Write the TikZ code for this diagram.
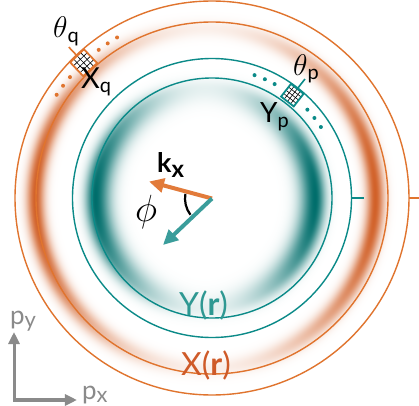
\documentclass[tikz,border=0pt]{standalone}
\usepackage{fix-cm}
\usepackage{fontspec}
\setsansfont{Lato}
\usetikzlibrary{arrows.meta, calc}

\definecolor{ringorange}{HTML}{E0742E}
\definecolor{ringteal}{HTML}{0B8A88}
\definecolor{arroworange}{HTML}{E27B3A}
\definecolor{arrowteal}{HTML}{3A9D9B}
\definecolor{textorange}{HTML}{CF5A28}
\definecolor{textteal}{HTML}{2E9892}
\definecolor{axisgray}{HTML}{8A8A8A}

% lowered subscript: drop, size, text
\newcommand{\lowsub}[3]{\raisebox{-#1}{\fontsize{#2}{#2}\selectfont #3}}

% X(r) band: gaussian in r, strongest along p_x
\pgfdeclarefunctionalshading{bandX}{\pgfpoint{-205bp}{-205bp}}{\pgfpoint{205bp}{205bp}}{}{
  exch dup mul exch dup mul 1 index add 0.01 add
  exch 1 index div 0.9 mul 0.1 add
  exch sqrt 170 sub 9 div dup mul neg 2.71828 exch exp mul
  dup 0.18 mul 1 exch sub exch
  dup 0.62 mul 1 exch sub exch
  0.84 mul 1 exch sub
}
% Y(r) band: a little wider towards the centre
\pgfdeclarefunctionalshading{bandY}{\pgfpoint{-150bp}{-150bp}}{\pgfpoint{150bp}{150bp}}{}{
  exch dup mul exch dup mul 1 index add 0.01 add
  exch 1 index div 0.9 mul 0.1 add
  exch sqrt 110 sub dup 0 lt {15 div} {10 div} ifelse dup mul neg 2.71828 exch exp mul
  dup 1.0 mul 1 exch sub exch
  dup 0.57 mul 1 exch sub exch
  0.58 mul 1 exch sub
}

\begin{document}
\begin{tikzpicture}[x=1bp, y=1bp,
  ringline/.style={line width=1.4bp},
  cellbox/.style={minimum size=#1, inner sep=0pt, outer sep=0pt, fill=white},
  gridline/.style={black, line width=0.6bp},
  lbl/.style={inner sep=0pt, anchor=base west, font=\sffamily\fontsize{#1}{#1}\selectfont},
  vec/.style={line width=4bp, -{Triangle[length=15bp, width=14bp]}},
  axis/.style={axisgray, line width=3bp, {Triangle[length=12bp, width=11bp]}-{Triangle[length=12bp, width=11bp]}},
]
\useasboundingbox (0,0) rectangle (419,406);
\coordinate (O) at (212,208);

% --- shaded bands ---
\node[inner sep=0pt] (bandX) at (205,208) {\pgfuseshading{bandX}};
\begin{scope}
  \clip (O) circle (140);
  \node[inner sep=0pt] (bandY) at (205,208) {\pgfuseshading{bandY}};
\end{scope}

% --- rings ---
\draw[ringorange, ringline] (O) circle (197) (O) circle (176);
\draw[ringteal, ringline] (O) circle (139.5) (O) circle (120);
\draw[ringorange, line width=2bp] ($(O)+(0:197)$) -- ($(O)+(0:209)$);
\draw[ringteal, line width=2bp] ($(O)+(0:139.5)$) -- ($(O)+(0:152)$);

% --- dotted arcs ---
\foreach \d in {-12.9,-9.5,-6.1,6.1,9.5,12.9}
  \fill[ringorange] ($(O)+(133.5+\d:186.5)$) circle (2);
\foreach \d in {-18.9,-14,-9.2,9.2,14,18.9}
  \fill[ringteal] ($(O)+(52+\d:130)$) circle (2);

% --- cells ---
\node[cellbox=19bp, rotate=133.5] (Xcell) at ($(O)+(133.5:186.5)$) {};
\node[cellbox=16bp, rotate=52] (Ycell) at ($(O)+(52:130.5)$) {};
\foreach \c in {Xcell, Ycell}
  \foreach \t in {0.25,0.5,0.75} {
    \draw[gridline] ($(\c.north west)!\t!(\c.north east)$) -- ($(\c.south west)!\t!(\c.south east)$);
    \draw[gridline] ($(\c.north west)!\t!(\c.south west)$) -- ($(\c.north east)!\t!(\c.south east)$);
  }
\foreach \c/\col in {Xcell/ringorange, Ycell/ringteal}
  \draw[\col, line width=1.8bp] (\c.north west) -- (\c.north east) -- (\c.south east) -- (\c.south west) -- cycle;
\coordinate (Xtick) at ($(O)+(133.5:208)$);
\coordinate (Ytick) at ($(O)+(52:151)$);
\draw[ringorange, line width=1.6bp] (Xcell.east) -- (Xtick);
\draw[ringteal, line width=1.6bp] (Ycell.east) -- (Ytick);

% --- labels ---
\node[lbl=30] (thq) at (53,369) {$\theta$\lowsub{5bp}{20}{q}};
\node[lbl=29] (Xq) at (81,318) {X\lowsub{4bp}{20}{q}};
\node[lbl=30] (thp) at (293,331) {$\theta$\lowsub{4bp}{20}{p}};
\node[lbl=28] (Yp) at (260,284) {Y\lowsub{5bp}{20}{p}};
\node[lbl=27, font=\sffamily\bfseries\fontsize{27}{27}\selectfont] (kx) at (157,234) {k\lowsub{5bp}{24}{x}};
\node[inner sep=0pt, font=\fontsize{38}{38}\selectfont] (phi) at (146,194) {$\phi$};
\node[lbl=32, textteal] (Yr) at (179,91) {Y(\textbf{r})};
\node[lbl=32, textorange] (Xr) at (181,31) {X(\textbf{r})};
\node[lbl=26, axisgray] (py) at (10,82) {p\lowsub{3bp}{22}{y}};
\node[lbl=26, axisgray] (px) at (82,7) {p\lowsub{3bp}{22}{x}};

% --- axes ---
\coordinate (ax0) at (14,6);
\coordinate (axY) at (14,74);
\coordinate (axX) at (77,6);
\draw[axis] (axY) -- (ax0) -- (axX);

% --- vectors ---
\coordinate (piv) at (212,207.5);
\coordinate (ktip) at (149,224.5);
\coordinate (qtip) at (163,161);
\draw[vec, arroworange] (piv) -- (ktip);
\draw[vec, arrowteal] (piv) -- (qtip);
\draw[line width=2.2bp] ($(piv)+(170:27)$) arc[start angle=170, end angle=217, radius=27];

\end{tikzpicture}
\end{document}
